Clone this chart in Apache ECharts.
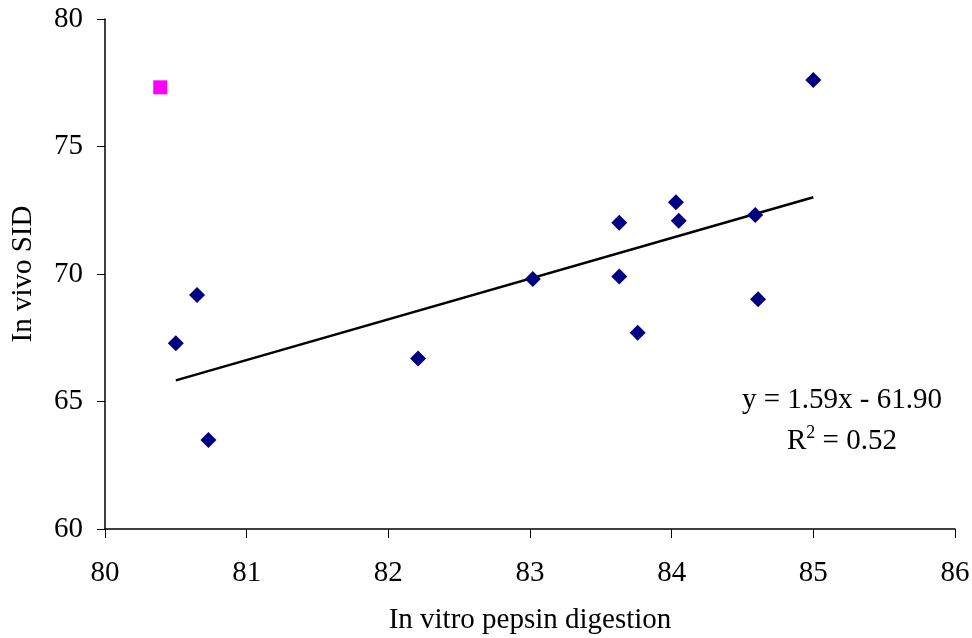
<!DOCTYPE html>
<html>
<head>
<meta charset="utf-8">
<script src="https://cdn.jsdelivr.net/npm/echarts@6/dist/echarts.min.js"></script>
<style>
  html, body { margin: 0; padding: 0; background: #fff; }
  #chart { width: 972px; height: 638px; }
</style>
</head>
<body>
<div id="chart"></div>
<script>
// in vitro pepsin digestion (x) vs in vivo SID (y)
var pepsin = [80.50, 80.65, 80.73, 82.21, 83.02, 83.63, 83.63, 83.76, 84.03, 84.05, 84.59, 84.61, 85.00];
var sid = [67.28, 69.18, 63.49, 66.69, 69.80, 72.01, 69.90, 67.70, 72.81, 72.09, 72.31, 69.01, 77.61];

// outlier (pink square), not in the regression
var outlierPepsin = [80.39];
var outlierSid = [77.32];

var xTicks = [80, 81, 82, 83, 84, 85, 86];
var yTicks = [60, 65, 70, 75, 80];

var equationText = "y = 1.59x - 61.90";
var r2Text = "R{sup|2} = 0.52";

function fitLine(xs, ys) {
  var n = xs.length, mx = 0, my = 0;
  for (var i = 0; i < n; i++) { mx += xs[i]; my += ys[i]; }
  mx /= n; my /= n;
  var sxy = 0, sxx = 0;
  for (var j = 0; j < n; j++) {
    sxy += (xs[j] - mx) * (ys[j] - my);
    sxx += (xs[j] - mx) * (xs[j] - mx);
  }
  var slope = sxy / sxx;
  return { slope: slope, intercept: my - slope * mx };
}

var fit = fitLine(pepsin, sid);
var xMin = Math.min.apply(null, pepsin);
var xMax = Math.max.apply(null, pepsin);
var trend = [
  [xMin, fit.slope * xMin + fit.intercept],
  [xMax, fit.slope * xMax + fit.intercept]
];

var mainPoints = pepsin.map(function (v, i) { return [v, sid[i]]; });
var extraPoints = outlierPepsin.map(function (v, i) { return [v, outlierSid[i]]; });

var font = "'Liberation Serif', 'Times New Roman', serif";
var fs = 29;

var chart = echarts.init(document.getElementById("chart"));
chart.setOption({
  animation: false,
  backgroundColor: "#fff",
  grid: { left: 105, right: 17, top: 19, bottom: 109, containLabel: false, outerBoundsMode: "none" },
  xAxis: {
    type: "value",
    min: xTicks[0],
    max: xTicks[xTicks.length - 1],
    interval: 1,
    name: "In vitro pepsin digestion",
    nameLocation: "middle",
    nameGap: 77,
    nameTextStyle: { fontFamily: font, fontSize: fs, color: "#000" },
    axisLine: { show: true, lineStyle: { color: "#000", width: 1.5 } },
    axisTick: { show: true, inside: false, length: 9, lineStyle: { color: "#000" } },
    axisLabel: { fontFamily: font, fontSize: fs, color: "#000", margin: 30 },
    splitLine: { show: false }
  },
  yAxis: {
    type: "value",
    min: yTicks[0],
    max: yTicks[yTicks.length - 1],
    interval: 5,
    name: "In vivo SID",
    nameLocation: "middle",
    nameGap: 67,
    nameTextStyle: { fontFamily: font, fontSize: fs, color: "#000" },
    axisLine: { show: true, lineStyle: { color: "#000", width: 1.5 } },
    axisTick: { show: true, inside: false, length: 8, lineStyle: { color: "#000" } },
    axisLabel: { fontFamily: font, fontSize: fs, color: "#000", margin: 22 },
    splitLine: { show: false }
  },
  series: [
    {
      type: "line",
      data: trend,
      showSymbol: false,
      symbol: "none",
      lineStyle: { color: "#000", width: 2.5 },
      z: 2
    },
    {
      type: "scatter",
      data: mainPoints,
      symbol: "diamond",
      symbolSize: [16, 16],
      itemStyle: { color: "#000080", opacity: 1 },
      z: 3
    },
    {
      type: "scatter",
      data: extraPoints,
      symbol: "rect",
      symbolSize: 14,
      itemStyle: { color: "#ff00ff", opacity: 1 },
      z: 3
    }
  ],
  graphic: [
    {
      type: "text",
      left: 742,
      top: 386,
      style: {
        text: equationText,
        font: fs + "px " + font,
        fill: "#000"
      }
    },
    {
      type: "text",
      left: 787,
      top: 424,
      style: {
        text: r2Text,
        font: fs + "px " + font,
        fill: "#000",
        rich: {
          sup: { fontSize: 18, fontFamily: font, verticalAlign: "top", padding: [0, 0, 16, 0] }
        }
      }
    }
  ]
});
</script>
</body>
</html>
